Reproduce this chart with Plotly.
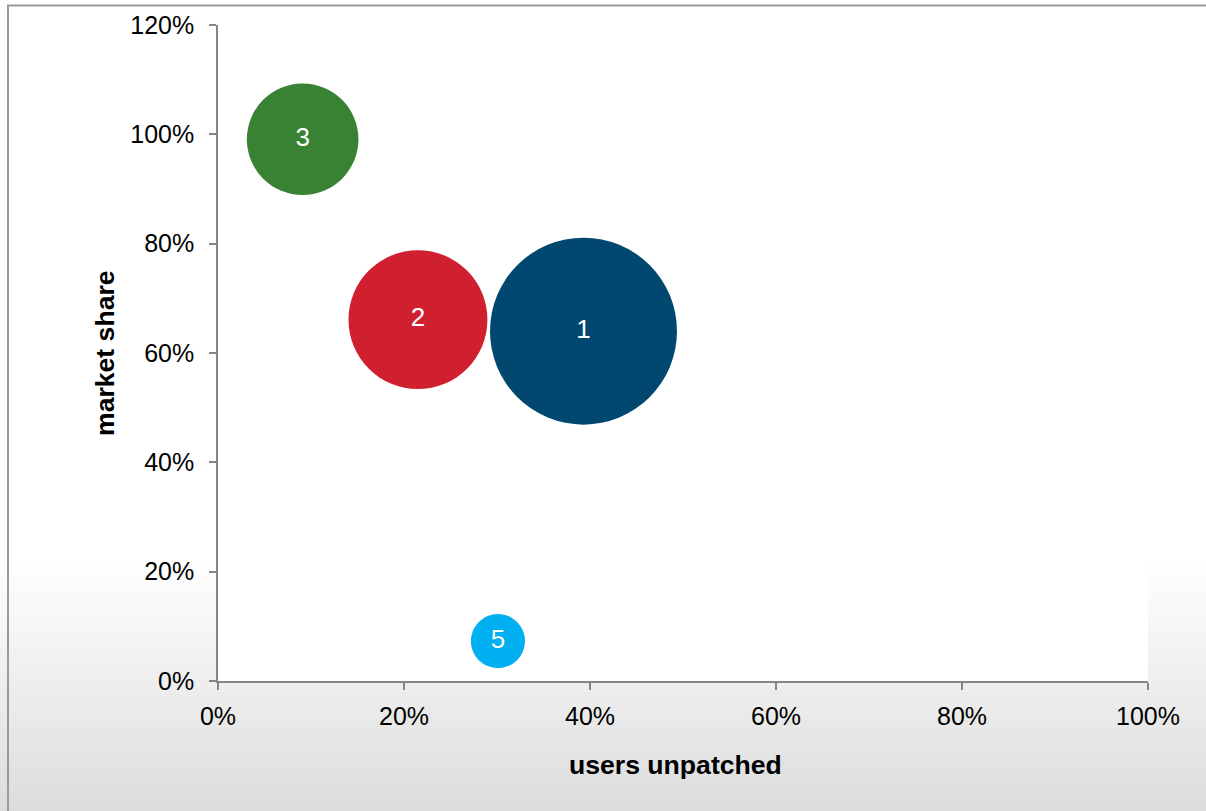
import plotly.graph_objects as go

# ---- data ----
labels = ["1", "2", "3", "5"]
users_unpatched = [0.393, 0.215, 0.091, 0.301]
market_share = [0.640, 0.661, 0.991, 0.073]
bubble_size = [8.7, 4.8, 3.1, 0.73]
colors = ["#00486F", "#D01F2F", "#3A8233", "#00B0F0"]

x_ticks = [0, 0.2, 0.4, 0.6, 0.8, 1.0]
y_ticks = [0, 0.2, 0.4, 0.6, 0.8, 1.0, 1.2]

W, H = 1206, 811
ML, MR, MT, MB = 218, 58, 25, 130
PW, PH = W - ML - MR, H - MT - MB

FONT = "Liberation Sans, Arial, sans-serif"

def px_to_paper_x(px):
    return (px - ML) / PW

def px_to_paper_y(py):
    return (H - MB - py) / PH

max_diam = 187
sizeref = 2 * max(bubble_size) / (max_diam ** 2)

fig = go.Figure()
fig.add_trace(go.Scatter(
    x=users_unpatched, y=market_share, mode="markers+text",
    text=labels, textposition="middle center",
    textfont=dict(color="white", size=26, family=FONT),
    marker=dict(size=bubble_size, sizemode="area", sizeref=sizeref,
                color=colors, opacity=1, line=dict(width=0)),
    cliponaxis=False, showlegend=False, hoverinfo="x+y",
))

shapes = []
# background gradient (decorative)
g_start, g_end = 560, 812
steps = 63
for i in range(steps):
    y0 = g_start + (g_end - g_start) * i / steps
    y1 = g_start + (g_end - g_start) * (i + 1) / steps
    t = (i + 0.5) / steps
    c = int(round(255 - 35 * t))
    shapes.append(dict(type="rect", xref="paper", yref="paper", layer="below",
                       x0=px_to_paper_x(-5), x1=px_to_paper_x(W + 5),
                       y0=px_to_paper_y(y0), y1=px_to_paper_y(y1 + 0.6),
                       fillcolor=f"rgb({c},{c},{c})", line=dict(width=0)))
# white plot area
shapes.append(dict(type="rect", xref="paper", yref="paper", layer="below",
                   x0=0, x1=1, y0=0, y1=1, fillcolor="white", line=dict(width=0)))
# outer border
shapes.append(dict(type="rect", xref="paper", yref="paper", layer="below",
                   x0=px_to_paper_x(8), x1=px_to_paper_x(W + 20),
                   y0=px_to_paper_y(H + 20), y1=px_to_paper_y(5.5),
                   fillcolor="rgba(0,0,0,0)", line=dict(color="#9a9a9a", width=2)))

fig.update_layout(
    width=W, height=H,
    margin=dict(l=ML, r=MR, t=MT, b=MB, pad=0),
    paper_bgcolor="white", plot_bgcolor="white",
    font=dict(family=FONT, color="black", size=25),
    shapes=shapes,
    xaxis=dict(range=[0, 1], tickvals=x_ticks, tickformat=".0%",
               showgrid=False, zeroline=False, showline=True,
               linecolor="#868686", linewidth=1.5, ticks="outside",
               ticklen=7, tickcolor="#868686", tickwidth=1.5,
               tickfont=dict(size=25, family=FONT), ticklabelstandoff=5),
    yaxis=dict(range=[0, 1.2], tickvals=y_ticks, tickformat=".0%",
               showgrid=False, zeroline=False, showline=True,
               linecolor="#868686", linewidth=1.5, ticks="outside",
               ticklen=7, tickcolor="#868686", tickwidth=1.5,
               tickfont=dict(size=25, family=FONT), ticklabelstandoff=10),
    annotations=[
        dict(text="<b>users unpatched</b>", xref="paper", yref="paper",
             x=px_to_paper_x(675), y=px_to_paper_y(765), showarrow=False,
             xanchor="center", yanchor="middle",
             font=dict(size=26.6, family=FONT, color="black")),
        dict(text="<b>market share</b>", xref="paper", yref="paper",
             x=px_to_paper_x(105), y=px_to_paper_y(353), showarrow=False,
             textangle=-90, xanchor="center", yanchor="middle",
             font=dict(size=26.6, family=FONT, color="black")),
    ],
)

fig.write_html("out.html")
